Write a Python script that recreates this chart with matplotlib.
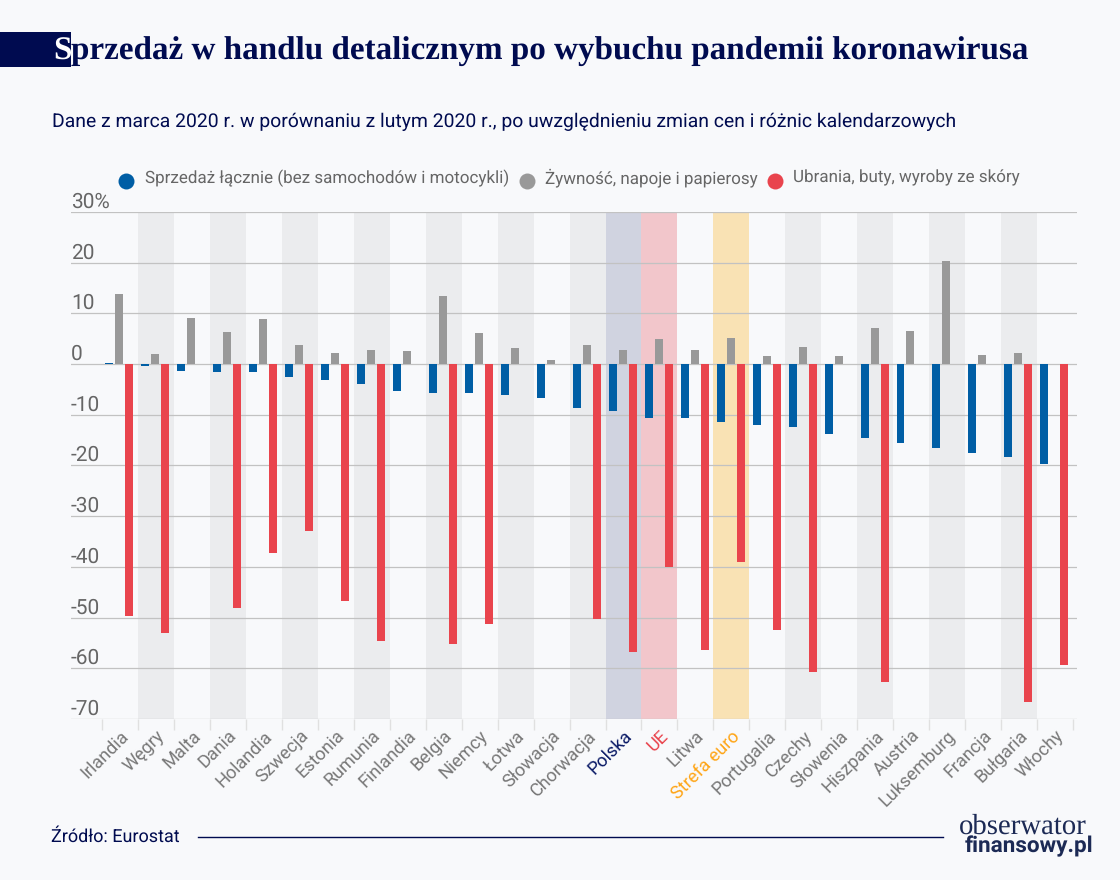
import numpy as np
import matplotlib
matplotlib.use('Agg')
import matplotlib.pyplot as plt
from matplotlib.patches import Rectangle
from matplotlib.lines import Line2D

countries = ['Irlandia', 'Węgry', 'Malta', 'Dania', 'Holandia', 'Szwecja', 'Estonia', 'Rumunia',
             'Finlandia', 'Belgia', 'Niemcy', 'Łotwa', 'Słowacja', 'Chorwacja', 'Polska', 'UE',
             'Litwa', 'Strefa euro', 'Portugalia', 'Czechy', 'Słowenia', 'Hiszpania', 'Austria',
             'Luksemburg', 'Francja', 'Bułgaria', 'Włochy']
total = [0.2, -0.45, -1.4, -1.5, -1.65, -2.5, -3.1, -3.9, -5.3, -5.65, -5.7, -6.05, -6.6, -8.7,
         -9.3, -10.6, -10.6, -11.4, -12.0, -12.4, -13.7, -14.6, -15.5, -16.6, -17.6, -18.35, -19.8]
food = [13.9, 2.0, 9.1, 6.3, 8.9, 3.7, 2.1, 2.8, 2.5, 13.5, 6.1, 3.2, 0.9, 3.7,
        2.8, 4.9, 2.8, 5.2, 1.5, 3.3, 1.5, 7.1, 6.5, 20.3, 1.8, 2.1, np.nan]
clothes = [-49.6, -53.0, np.nan, -48.1, -37.3, -33.0, -46.8, -54.6, np.nan, -55.2, -51.2, np.nan,
           np.nan, -50.3, -56.8, -40.0, -56.3, -39.0, -52.5, -60.7, np.nan, -62.8, np.nan, np.nan,
           np.nan, -66.7, -59.4]
y_ticks = [30, 20, 10, 0, -10, -20, -30, -40, -50, -60, -70]
y_labels = ['30%', '20', '10', '0', '-10', '-20', '-30', '-40', '-50', '-60', '-70']
legend_labels = ['Sprzedaż łącznie (bez samochodów i motocykli)', 'Żywność, napoje i papierosy',
                 'Ubrania, buty, wyroby ze skóry']
shaded = ['Węgry', 'Dania', 'Szwecja', 'Rumunia', 'Belgia', 'Łotwa', 'Chorwacja', 'Czechy',
          'Hiszpania', 'Luksemburg', 'Bułgaria']
special_bands = {'Polska': '#d0d3e0', 'UE': '#f2c6cb', 'Strefa euro': '#f9e2b4'}
special_labels = {'Polska': '#0a1a66', 'UE': '#e9444d', 'Strefa euro': '#ffa516'}

W, H = 1120, 880
bg = '#f8f9fb'
navy = '#000b50'
blue, grey, red = '#005ea5', '#999999', '#e9444d'

plt.rcParams['font.family'] = ['Roboto', 'DejaVu Sans']
plt.rcParams['text.hinting'] = 'none'

fig = plt.figure(figsize=(W / 100, H / 100), dpi=100, facecolor=bg)
ax = fig.add_axes([71 / W, 1 - 719 / H, (1077 - 71) / W, (719 - 212) / H], facecolor=bg)

x = np.arange(len(countries))
for i, name in enumerate(countries):
    if name in special_bands:
        ax.axvspan(i - 0.5, i + 0.5, color=special_bands[name], lw=0, zorder=0)
    elif name in shaded:
        ax.axvspan(i - 0.5, i + 0.5, color='#ebecee', lw=0, zorder=0)

ax.bar(x - 0.298, total, 0.222, color=blue, zorder=3)
ax.bar(x - 0.02, food, 0.222, color=grey, zorder=3)
ax.bar(x + 0.258, clothes, 0.222, color=red, zorder=3)

ax.set_xlim(-1.363, 26.61)
ax.set_ylim(-70, 30)
ax.set_yticks(y_ticks, labels=y_labels)
ax.tick_params(axis='y', length=0, pad=0, labelsize=15, labelcolor='#666666')
for t in ax.get_yticklabels():
    t.set_ha('left')
    t.set_va('bottom')
ax.grid(axis='y', color='#c2c2c2', lw=0.9, zorder=1)
ax.set_axisbelow(True)
for s in ax.spines.values():
    s.set_visible(False)

ax.set_xticks(x, labels=countries, rotation=45, ha='right', rotation_mode='anchor')
ax.tick_params(axis='x', which='major', length=0, pad=6, labelsize=13, labelcolor='#777777')
ax.set_xticks(np.arange(len(countries) + 1) - 0.5, minor=True)
ax.tick_params(axis='x', which='minor', length=8, width=1, color='#e0e0e0')
for t, name in zip(ax.get_xticklabels(), countries):
    if name in special_labels:
        t.set_color(special_labels[name])

# legenda
for c, mx, tx, label in zip((blue, grey, red), (126, 527, 775), (145, 545, 793), legend_labels):
    fig.add_artist(Line2D([mx / W], [1 - 181 / H], transform=fig.transFigure, ls='', marker='o',
                          ms=11.5, color=c, mew=0))
    fig.text(tx / W, 1 - 178 / H, label, color='#666666', fontsize=12.26, va='center')

# naglowek
fig.add_artist(Rectangle((0, 1 - 67 / H), 71 / W, 35 / H, transform=fig.transFigure, color=navy, lw=0))
fig.text(53 / W, 1 - 60 / H, 'S', color='white', fontsize=23.87, fontweight='bold', family='Liberation Serif')
fig.text(71 / W, 1 - 60 / H, 'przedaż w handlu detalicznym po wybuchu pandemii koronawirusa', color=navy,
         fontsize=23.87, fontweight='bold', family='Liberation Serif')
fig.text(52 / W, 1 - 127 / H, 'Dane z marca 2020 r. w porównaniu z lutym 2020 r., po uwzględnieniu zmian cen i różnic kalendarzowych',
         color=navy, fontsize=13.97)

# stopka
fig.text(51 / W, 1 - 842 / H, 'Źródło: Eurostat', color=navy, fontsize=13)
fig.add_artist(Line2D([198 / W, 943 / W], [1 - 837 / H] * 2, transform=fig.transFigure, color=navy, lw=1))
fig.text(959 / W, 1 - 834 / H, 'obserwator', color='#1c2a55', fontsize=20.7, family='Liberation Serif')
fig.text(965 / W, 1 - 852 / H, 'finansowy.pl', color='#1c2a55', fontsize=16.2, fontweight='bold')

fig.savefig('out.png', dpi=100, facecolor=bg)
